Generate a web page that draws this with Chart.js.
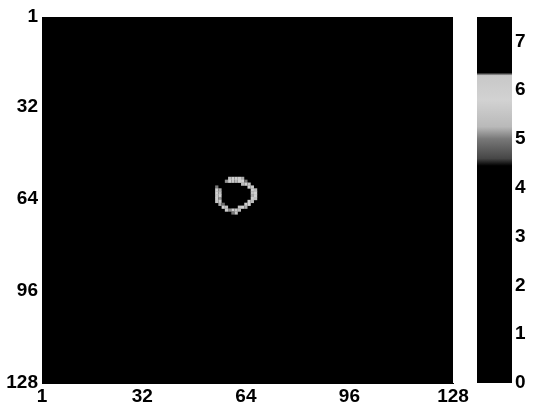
<!DOCTYPE html>
<html>
<head>
<meta charset="utf-8">
<script src="https://cdn.jsdelivr.net/npm/chart.js@4.4.1/dist/chart.umd.min.js"></script>
<style>
  html, body { margin: 0; padding: 0; background: #fff; }
  #wrap { position: relative; width: 538px; height: 407px; }
  canvas { position: absolute; left: 0; top: 0; }
  #cbar { pointer-events: none; }
</style>
</head>
<body>
<div id="wrap">
  <canvas id="map" width="538" height="407"></canvas>
  <canvas id="cbar" width="538" height="407"></canvas>
</div>
<script>
// image is 128 x 128, everything off the ring sits at 0
const gridSize = 128;
const backgroundLevel = 0;
const xTicks = [1, 32, 64, 96, 128];
const yTicks = [1, 32, 64, 96, 128];

// ring cells (column, row, value)
const ringCols = [59,60,61,62,63, 58,59,60,61,62,63,64, 63,64,65, 55,65,66,
                  55,56,66,67, 55,56,66,67, 55,56,66,67, 55,56,66,67, 55,56,65,66,
                  56,57,64,65, 57,58,62,63,64, 58,59,60,61,62, 60,61];
const ringRows = [57,57,57,57,57, 58,58,58,58,58,58,58, 59,59,59, 60,60,60,
                  61,61,61,61, 62,62,62,62, 63,63,63,63, 64,64,64,64, 65,65,65,65,
                  66,66,66,66, 67,67,67,67,67, 68,68,68,68,68, 69,69];
const ringVals = [5.4,5.9,6.0,5.7,5.2, 5.1,5.8,5.6,5.3,5.9,5.8,5.0, 5.3,5.9,5.5, 5.0,5.8,5.6,
                  5.7,5.2,6.0,5.3, 5.9,5.4,5.5,5.8, 5.6,5.8,5.2,5.9, 6.0,5.1,5.7,5.4, 5.5,5.7,5.9,5.3,
                  5.2,4.9,5.6,5.8, 5.9,5.4,5.5,5.9,5.2, 5.6,5.1,5.8,5.6,5.3, 5.0,5.5];

// colour bar
const cbMin = 0, cbMax = 7.5;
const cbTicks = [0, 1, 2, 3, 4, 5, 6, 7];
const cmapStops = [0, 4.45, 4.6, 5.0, 5.25, 5.8, 6.3, 6.36, 7.5];
const cmapGray  = [0, 0,    70,  120, 185,  210, 200, 0,    0];

const FONT = { family: "'Liberation Sans', Arial, sans-serif", size: 19, weight: 'bold' };

function grayToCss(g) {
  g = Math.round(g);
  return 'rgb(' + g + ',' + g + ',' + g + ')';
}

function cmap(v) {
  if (v <= cmapStops[0]) return grayToCss(cmapGray[0]);
  for (let i = 1; i < cmapStops.length; i++) {
    if (v <= cmapStops[i]) {
      const t = (v - cmapStops[i-1]) / (cmapStops[i] - cmapStops[i-1]);
      return grayToCss(cmapGray[i-1] + t * (cmapGray[i] - cmapGray[i-1]));
    }
  }
  return grayToCss(cmapGray[cmapGray.length-1]);
}

const ringPoints = ringCols.map((c, i) => ({ x: c, y: ringRows[i], v: ringVals[i] }));

// fill the plot area with the colour of the background level
const bgFill = {
  id: 'bgFill',
  beforeDatasetsDraw(chart) {
    const a = chart.chartArea, ctx = chart.ctx;
    ctx.save();
    ctx.fillStyle = cmap(backgroundLevel);
    ctx.fillRect(a.left, a.top, a.right - a.left, a.bottom - a.top);
    ctx.restore();
  }
};

function cellRadius(c) {
  const s = c.chart.scales.x;
  const w = Math.abs(s.getPixelForValue(2) - s.getPixelForValue(1));
  return w / Math.SQRT2;
}

new Chart(document.getElementById('map'), {
  type: 'scatter',
  data: {
    datasets: [{
      data: ringPoints,
      pointStyle: 'rect',
      pointRadius: cellRadius,
      pointHoverRadius: cellRadius,
      borderWidth: 0,
      backgroundColor: c => cmap(c.raw ? c.raw.v : 0)
    }]
  },
  options: {
    responsive: false,
    animation: false,
    events: [],
    layout: { padding: { top: 17, right: 85, left: 0, bottom: 0 } },
    plugins: { legend: { display: false }, tooltip: { enabled: false } },
    scales: {
      x: {
        type: 'linear', position: 'bottom', min: 1, max: gridSize,
        afterBuildTicks: s => { s.ticks = xTicks.map(v => ({ value: v })); },
        afterFit: s => { s.height = 24; },
        grid: { display: false, drawTicks: false },
        border: { color: '#000' },
        ticks: { color: '#000', font: FONT, padding: 2, maxRotation: 0, autoSkip: false }
      },
      y: {
        type: 'linear', reverse: true, min: 1, max: gridSize,
        afterBuildTicks: s => { s.ticks = yTicks.map(v => ({ value: v })); },
        afterFit: s => { s.width = 42; },
        grid: { display: false, drawTicks: false },
        border: { color: '#000' },
        ticks: { color: '#000', font: FONT, padding: 4, autoSkip: false }
      }
    }
  },
  plugins: [bgFill]
});

function barGradient(c) {
  const chart = c.chart;
  if (!chart.chartArea) return '#000';
  const ys = chart.scales.y;
  const g = chart.ctx.createLinearGradient(0, ys.getPixelForValue(cbMin), 0, ys.getPixelForValue(cbMax));
  cmapStops.forEach((v, i) => g.addColorStop((v - cbMin) / (cbMax - cbMin), grayToCss(cmapGray[i])));
  return g;
}

new Chart(document.getElementById('cbar'), {
  type: 'bar',
  data: {
    labels: ['cb'],
    datasets: [{
      data: [[cbMin, cbMax]],
      backgroundColor: barGradient,
      borderWidth: 0,
      barPercentage: 1,
      categoryPercentage: 1
    }]
  },
  options: {
    responsive: false,
    animation: false,
    events: [],
    layout: { padding: { top: 17, left: 477, right: 0, bottom: 24 } },
    plugins: { legend: { display: false }, tooltip: { enabled: false } },
    scales: {
      x: { display: false },
      y: {
        position: 'right', min: cbMin, max: cbMax,
        afterBuildTicks: s => { s.ticks = cbTicks.map(v => ({ value: v })); },
        afterFit: s => { s.width = 26; },
        grid: { display: false, drawTicks: false },
        border: { display: false },
        ticks: { color: '#000', font: FONT, padding: 3 }
      }
    }
  }
});
</script>
</body>
</html>
